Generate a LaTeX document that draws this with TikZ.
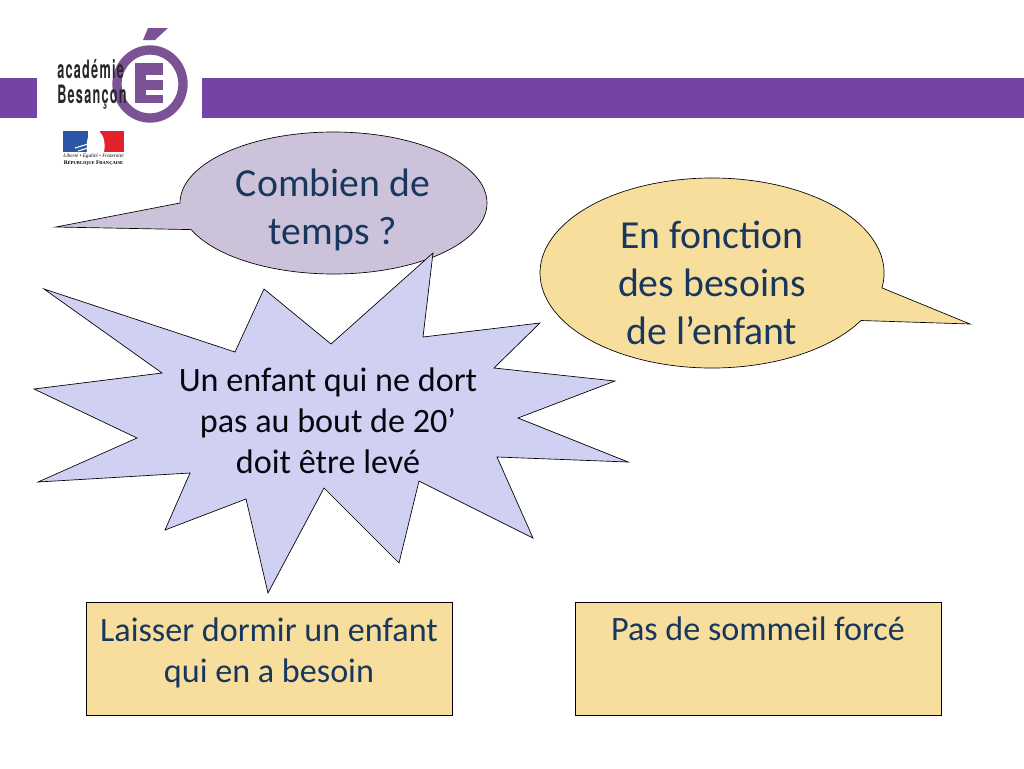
\documentclass[tikz,border=0pt]{standalone}
\usepackage{fontspec}
\setmainfont{Carlito}
\newfontfamily\logofont[LetterSpace=10]{TeX Gyre Heros}
\newfontfamily\flagfont{Liberation Serif}
\definecolor{barviolet}{HTML}{7344A5}
\definecolor{logoviolet}{HTML}{7C5296}
\definecolor{bubbleviolet}{HTML}{CCC3DA}
\definecolor{sand}{HTML}{F7DE9C}
\definecolor{starblue}{HTML}{D0D0F2}
\definecolor{navy}{HTML}{17375E}
\definecolor{flagblue}{HTML}{2B55A5}
\definecolor{flagred}{HTML}{E3212B}
\tikzset{
  x=0.75pt,y=-0.75pt,
  shape line/.style={draw=black,line width=0.5pt},
  big text/.style={text=navy,align=center,font=\fontsize{29.8}{36}\selectfont},
  star text/.style={text=black!85!navy,align=center,font=\fontsize{25.6}{30.8}\selectfont},
  box text/.style={text=navy,align=center,font=\fontsize{25.6}{30.8}\selectfont},
  logo text/.style={inner sep=0pt,anchor=base west,text=black!85,font=\logofont\bfseries\fontsize{19}{19}\selectfont},
  answer box/.style={shape line,fill=sand,rectangle,minimum width=274.5pt,minimum height=84.75pt,anchor=north west,inner sep=0pt},
}
\begin{document}
\begin{tikzpicture}
\useasboundingbox (0,0) rectangle (1024,768);
\fill[barviolet] (0,78) rectangle (37,118);
\fill[barviolet] (202,78) rectangle (1024,118);
% logo
\draw[logoviolet,line width=7pt] (150,84) ellipse (33 and 34);
\fill[logoviolet] (143,40) -- (148,28) -- (168,28) -- (155,40) -- cycle;
\fill[logoviolet] (135,63) rectangle (163,103);
\fill[white] (146,75) rectangle (163,80);
\fill[white] (146,90) rectangle (163,95);
\node[logo text] (academie) at (57,78) {\scalebox{.5}[1]{académie}};
\node[logo text] (besancon) at (57,103) {\scalebox{.5}[1]{Besançon}};
% flag
\fill[flagblue] (63,131) rectangle (88,152);
\fill[flagred] (100,131) rectangle (124,152);
\fill[white] (87,152) .. controls (86,140) and (88,131) .. (96,131) .. controls (103,131) and (106,142) .. (104,152) -- cycle;
\draw[white,line width=0.8pt] (75,148) -- (88,144) (78,151) -- (88,148);
\node[inner sep=0pt] (devise) at (93.5,156) {\flagfont\itshape\fontsize{3.9}{3.9}\selectfont Liberté • Égalité • Fraternité};
\node[inner sep=0pt] (republique) at (93.5,163.5) {\flagfont\bfseries\fontsize{4.2}{4.2}\selectfont R{\fontsize{3.4}{3.4}\selectfont ÉPUBLIQUE} F{\fontsize{3.4}{3.4}\selectfont RANÇAISE}};
% bubbles
\draw[shape line,fill=bubbleviolet] (180,203) arc[start angle=180,end angle=518,x radius=153.5,y radius=71] -- (56,227) -- cycle;
\node[big text] (combien) at (333,210) {Combien de\\temps ?};
\draw[shape line,fill=sand] (861,320.5) arc[start angle=30,end angle=369,x radius=172,y radius=95] -- (970,324) -- cycle;
\node[big text] (fonction) at (712,283) {En fonction\\des besoins\\de l’enfant};
% star
\draw[shape line,fill=starblue] (433,253) -- (423,337) -- (540,323) -- (494,368) -- (615,381) -- (518,418)
  -- (628,462) -- (497,457) -- (533,538) -- (419,481) -- (399,563) -- (324,488) -- (268,593) -- (246,499)
  -- (165,530) -- (190,473) -- (38,482) -- (137,438) -- (34,389) -- (162,373) -- (44,289) -- (235,352)
  -- (264,289) -- (331,344) -- cycle;
\node[star text] (dort) at (328,420.5) {Un enfant qui ne dort\\pas au bout de 20’\\doit être levé};
% boxes
\node[answer box] (laisser) at (86,602) {};
\node[box text] (laissertxt) at (269,652.5) {Laisser dormir un enfant\\qui en a besoin};
\node[answer box] (pas) at (575,602) {};
\node[box text,anchor=center] (pastxt) at (758,629) {Pas de sommeil forcé};
\end{tikzpicture}
\end{document}
